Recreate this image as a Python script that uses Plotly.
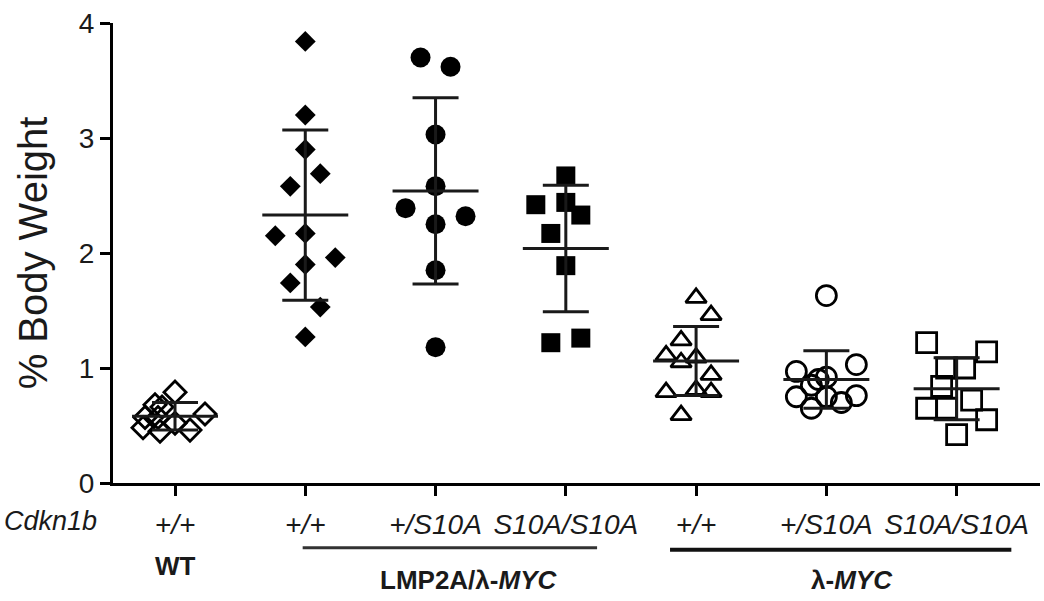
import plotly.graph_objects as go

# ---------------- data ----------------
categories = ["WT", "LMP_pp", "LMP_pS", "LMP_SS", "MYC_pp", "MYC_pS", "MYC_SS"]
tick_labels = ["+/+", "+/+", "+/S10A", "S10A/S10A", "+/+", "+/S10A", "S10A/S10A"]

wt_vals = [0.79, 0.60, 0.68, 0.66, 0.57, 0.57, 0.52, 0.48, 0.45, 0.46]
lmp_pp_vals = [3.84, 3.20, 2.90, 2.69, 2.58, 2.15, 2.17, 1.96, 1.90, 1.74, 1.53, 1.27]
lmp_ps_vals = [3.70, 3.62, 3.03, 2.58, 2.39, 2.32, 2.25, 1.85, 1.18]
lmp_ss_vals = [2.67, 2.42, 2.44, 2.33, 2.17, 1.89, 1.22, 1.26]
myc_pp_vals = [1.61, 1.46, 1.24, 1.11, 1.05, 1.09, 0.94, 0.81, 0.79, 0.79, 0.59]
myc_ps_vals = [1.63, 1.03, 0.97, 0.92, 0.85, 0.90, 0.75, 0.75, 0.76, 0.70, 0.65]
myc_ss_vals = [1.22, 1.14, 1.00, 1.00, 0.84, 0.72, 0.65, 0.65, 0.55, 0.42]

group_means = [0.58, 2.33, 2.54, 2.04, 1.06, 0.90, 0.82]
group_sds = [0.12, 0.74, 0.81, 0.55, 0.30, 0.25, 0.27]

# horizontal jitter of points (in pixels, converted below)
wt_jit = [0, 30, -20, -13, -30, -17, 0, -32, -15, 15]
lmp_pp_jit = [0, 0, 0, 15, -15, -30, 0, 30, 0, -15, 15, 0]
lmp_ps_jit = [-15, 15, 0, 0, -30, 30, 0, 0, 0]
lmp_ss_jit = [0, -30, 0, 15, -15, 0, -15, 15]
myc_pp_jit = [0, 15, -15, -30, -15, 0, 15, 0, 15, -30, -15]
myc_ps_jit = [0, 30, -30, 0, -15, -8, -30, 0, 30, 15, -15]
myc_ss_jit = [-30, 30, -10, 8, -15, 15, -30, -10, 30, 0]

PX = 130.3  # pixels per category unit

groups = [
    (wt_vals, wt_jit, "diamond-open", 17),
    (lmp_pp_vals, lmp_pp_jit, "diamond", 16),
    (lmp_ps_vals, lmp_ps_jit, "circle", 20),
    (lmp_ss_vals, lmp_ss_jit, "square", 19),
    (myc_pp_vals, myc_pp_jit, "triangle-up-open", 18),
    (myc_ps_vals, myc_ps_jit, "circle-open", 20),
    (myc_ss_vals, myc_ss_jit, "square-open", 20),
]

FONT = "Liberation Sans, Arial, sans-serif"
LINEC = "#1a1a1a"

fig = go.Figure()

for i, (vals, jit, sym, size) in enumerate(groups):
    xs = [i + j / PX for j in jit]
    openm = sym.endswith("open")
    fig.add_trace(go.Scatter(
        x=xs, y=vals, mode="markers", cliponaxis=False, showlegend=False,
        marker=dict(symbol=sym, size=size, color="black",
                    line=dict(color="black", width=2.8 if openm else 0)),
    ))

# mean lines
for i, m in enumerate(group_means):
    fig.add_trace(go.Scatter(
        x=[i - 0.33, i + 0.33], y=[m, m], mode="lines", showlegend=False,
        line=dict(color=LINEC, width=3), cliponaxis=False,
    ))

# SD error bars
fig.add_trace(go.Scatter(
    x=list(range(len(categories))), y=group_means, mode="markers",
    marker=dict(size=1, color="rgba(0,0,0,0)"), showlegend=False,
    error_y=dict(type="data", array=group_sds, visible=True,
                 color=LINEC, thickness=3, width=23),
    cliponaxis=False,
))

fig.update_layout(
    width=1044, height=601,
    margin=dict(l=113, r=4, t=23, b=118, autoexpand=False),
    paper_bgcolor="white", plot_bgcolor="white",
    font=dict(family=FONT, color="#1a1a1a"),
    xaxis=dict(
        range=[-0.476, 6.64], tickmode="array",
        tickvals=list(range(len(categories))), ticktext=tick_labels,
        tickfont=dict(size=28, style="italic", family=FONT),
        ticks="outside", ticklen=10, tickwidth=3, tickcolor="black",
        showline=True, linewidth=3, linecolor="black", automargin=False,
        showgrid=False, zeroline=False, ticklabelstandoff=4,
        ticklabeloverflow="allow",
    ),
    yaxis=dict(
        range=[0, 4], tickvals=[0, 1, 2, 3, 4],
        tickfont=dict(size=28, family=FONT),
        ticks="outside", ticklen=10, tickwidth=3, tickcolor="black",
        showline=True, linewidth=3, linecolor="black", automargin=False,
        showgrid=False, zeroline=False, ticklabeloverflow="allow",
        title=dict(text="% Body Weight", font=dict(size=40, family=FONT), standoff=19),
    ),
)

# Cdkn1b label
fig.add_annotation(x=-0.067, y=-0.083, xref="paper", yref="paper", text="<i>Cdkn1b</i>",
                   xanchor="center", yanchor="middle",
                   showarrow=False, font=dict(size=27, family=FONT))

# group underlines
fig.add_shape(type="line", xref="x", yref="paper", x0=0.98, x1=3.24, y0=-0.141, y1=-0.141,
              line=dict(color="#333333", width=3))
fig.add_shape(type="line", xref="x", yref="paper", x0=3.80, x1=6.42, y0=-0.145, y1=-0.145,
              line=dict(color="#111111", width=4))

# group labels
fig.add_annotation(x=0, y=-0.18, xref="x", yref="paper", text="<b>WT</b>",
                   xanchor="center", yanchor="middle",
                   showarrow=False, font=dict(size=26, family=FONT))
fig.add_annotation(x=2.25, y=-0.21, xref="x", yref="paper", text="<b>LMP2A/λ-<i>MYC</i></b>",
                   xanchor="center", yanchor="middle",
                   showarrow=False, font=dict(size=26, family=FONT))
fig.add_annotation(x=5.2, y=-0.21, xref="x", yref="paper", text="<b>λ-<i>MYC</i></b>",
                   xanchor="center", yanchor="middle",
                   showarrow=False, font=dict(size=26, family=FONT))

# remove the browser's default 8px page margin so the figure sits at (0, 0)
fig.write_html("out.html", config={"displayModeBar": False},
               post_script="document.body.style.margin='0px';")
